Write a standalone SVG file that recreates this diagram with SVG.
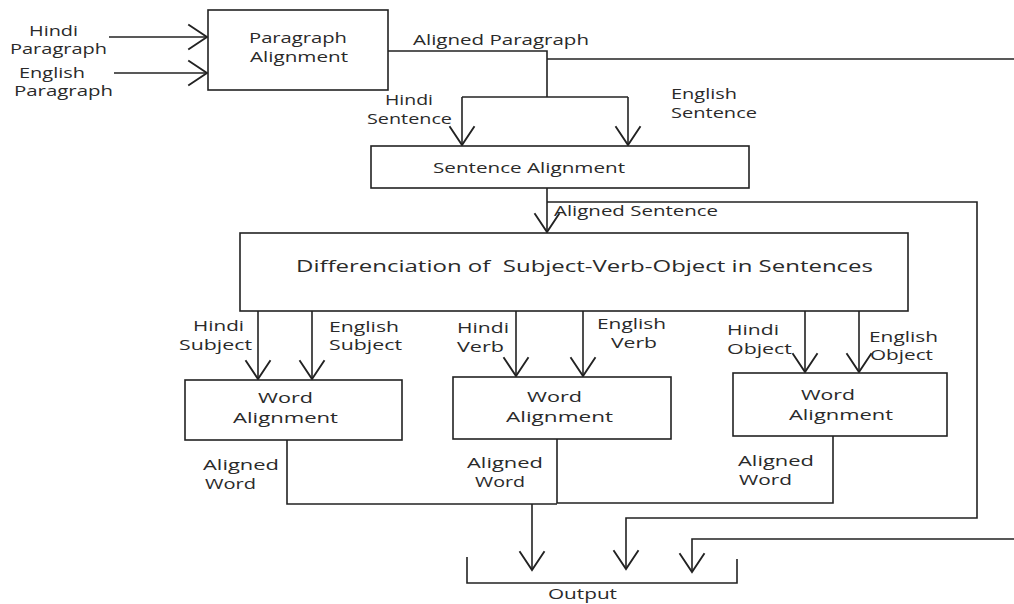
<svg xmlns="http://www.w3.org/2000/svg" width="1014" height="604" viewBox="0 0 1014 604">
<style>
text{font-family:"Open Sans","Liberation Sans",sans-serif;font-size:15px;fill:#2a2a2a}
.big{font-size:17px}
.box{fill:#fff;stroke:#222;stroke-width:1.6}
.ln{fill:none;stroke:#222;stroke-width:1.6}
</style>
<defs>
<marker id="ah" markerUnits="userSpaceOnUse" markerWidth="30" markerHeight="30" refX="0" refY="0" viewBox="-16 -12 20 24" orient="auto" overflow="visible">
<path d="M-15,-10 L0,0 L-15,10" fill="none" stroke="#222" stroke-width="1.5"/>
</marker>
</defs>
<rect width="1014" height="604" fill="#fff"/>
<g id="connectors" class="ln">
<path d="M109,37 H207" marker-end="url(#ah)"/>
<path d="M114,73 H207" marker-end="url(#ah)"/>
<path d="M388,51 H547 V97"/>
<path d="M547,59 H1014"/>
<path d="M462,97 H628"/>
<path d="M462,97 V145" marker-end="url(#ah)"/>
<path d="M628,97 V145" marker-end="url(#ah)"/>
<path d="M547,188 V232" marker-end="url(#ah)"/>
<path d="M547,202 H977 V518 H626 V569" marker-end="url(#ah)"/>
<path d="M258,311 V379" marker-end="url(#ah)"/>
<path d="M312,311 V379" marker-end="url(#ah)"/>
<path d="M516,311 V376" marker-end="url(#ah)"/>
<path d="M583,311 V376" marker-end="url(#ah)"/>
<path d="M805,311 V372" marker-end="url(#ah)"/>
<path d="M859,311 V372" marker-end="url(#ah)"/>
<path d="M287,440 V504 H557"/>
<path d="M557,439 V503 H833 V436"/>
<path d="M532,504 V570" marker-end="url(#ah)"/>
<path d="M1014,539 H692 V572" marker-end="url(#ah)"/>
<path d="M467,557 V583 H737 V559"/>
</g>
<g id="labels">
<text x="29" y="36" textLength="49" lengthAdjust="spacingAndGlyphs">Hindi</text>
<text x="10" y="54" textLength="97" lengthAdjust="spacingAndGlyphs">Paragraph</text>
<text x="19" y="78" textLength="66" lengthAdjust="spacingAndGlyphs">English</text>
<text x="14" y="96" textLength="99" lengthAdjust="spacingAndGlyphs">Paragraph</text>
<text x="413" y="45" textLength="176" lengthAdjust="spacingAndGlyphs">Aligned Paragraph</text>
<text x="385" y="105" textLength="48" lengthAdjust="spacingAndGlyphs">Hindi</text>
<text x="367" y="124" textLength="85" lengthAdjust="spacingAndGlyphs">Sentence</text>
<text x="671" y="99" textLength="66" lengthAdjust="spacingAndGlyphs">English</text>
<text x="671" y="118" textLength="86" lengthAdjust="spacingAndGlyphs">Sentence</text>
<text x="554" y="216" textLength="164" lengthAdjust="spacingAndGlyphs">Aligned Sentence</text>
<text x="193" y="331" textLength="51" lengthAdjust="spacingAndGlyphs">Hindi</text>
<text x="179" y="350" textLength="73" lengthAdjust="spacingAndGlyphs">Subject</text>
<text x="329" y="332" textLength="70" lengthAdjust="spacingAndGlyphs">English</text>
<text x="329" y="350" textLength="73" lengthAdjust="spacingAndGlyphs">Subject</text>
<text x="457" y="333" textLength="52" lengthAdjust="spacingAndGlyphs">Hindi</text>
<text x="457" y="352" textLength="47" lengthAdjust="spacingAndGlyphs">Verb</text>
<text x="597" y="329" textLength="69" lengthAdjust="spacingAndGlyphs">English</text>
<text x="611" y="348" textLength="46" lengthAdjust="spacingAndGlyphs">Verb</text>
<text x="727" y="335" textLength="52" lengthAdjust="spacingAndGlyphs">Hindi</text>
<text x="727" y="354" textLength="65" lengthAdjust="spacingAndGlyphs">Object</text>
<text x="869" y="342" textLength="69" lengthAdjust="spacingAndGlyphs">English</text>
<text x="870" y="360" textLength="63" lengthAdjust="spacingAndGlyphs">Object</text>
<text x="203" y="470" textLength="76" lengthAdjust="spacingAndGlyphs">Aligned</text>
<text x="205" y="489" textLength="51" lengthAdjust="spacingAndGlyphs">Word</text>
<text x="467" y="468" textLength="76" lengthAdjust="spacingAndGlyphs">Aligned</text>
<text x="475" y="487" textLength="50" lengthAdjust="spacingAndGlyphs">Word</text>
<text x="738" y="466" textLength="76" lengthAdjust="spacingAndGlyphs">Aligned</text>
<text x="739" y="485" textLength="53" lengthAdjust="spacingAndGlyphs">Word</text>
<text x="548" y="599" textLength="69" lengthAdjust="spacingAndGlyphs">Output</text>
</g>
<g id="paragraph-alignment">
<rect class="box" x="208" y="10" width="180" height="80"/>
<text x="249" y="43" textLength="98" lengthAdjust="spacingAndGlyphs">Paragraph</text>
<text x="250" y="62" textLength="98" lengthAdjust="spacingAndGlyphs">Alignment</text>
</g>
<g id="sentence-alignment">
<rect class="box" x="371" y="146" width="378" height="42"/>
<text x="433" y="173" textLength="192" lengthAdjust="spacingAndGlyphs">Sentence Alignment</text>
</g>
<g id="svo-differenciation">
<rect class="box" x="240" y="233" width="668" height="78"/>
<text class="big" x="296" y="272" textLength="577" lengthAdjust="spacingAndGlyphs" xml:space="preserve">Differenciation of  Subject-Verb-Object in Sentences</text>
</g>
<g id="word-alignment-subject">
<rect class="box" x="185" y="380" width="217" height="60"/>
<text x="258" y="403" textLength="55" lengthAdjust="spacingAndGlyphs">Word</text>
<text x="233" y="423" textLength="105" lengthAdjust="spacingAndGlyphs">Alignment</text>
</g>
<g id="word-alignment-verb">
<rect class="box" x="453" y="377" width="218" height="62"/>
<text x="527" y="402" textLength="55" lengthAdjust="spacingAndGlyphs">Word</text>
<text x="506" y="422" textLength="107" lengthAdjust="spacingAndGlyphs">Alignment</text>
</g>
<g id="word-alignment-object">
<rect class="box" x="733" y="373" width="214" height="63"/>
<text x="801" y="400" textLength="54" lengthAdjust="spacingAndGlyphs">Word</text>
<text x="789" y="420" textLength="104" lengthAdjust="spacingAndGlyphs">Alignment</text>
</g>
</svg>
